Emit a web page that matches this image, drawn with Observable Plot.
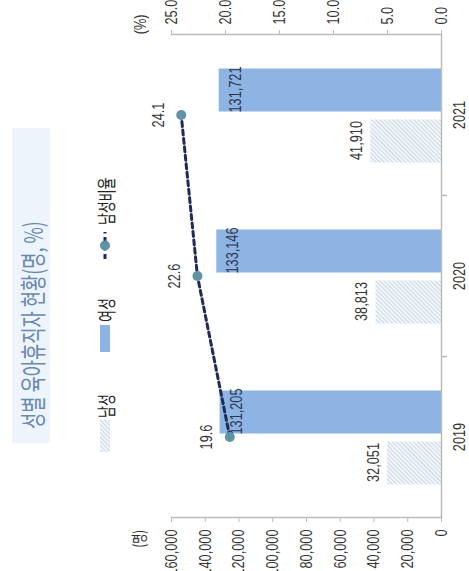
<!DOCTYPE html>
<html><head><meta charset="utf-8">
<script src="https://cdn.jsdelivr.net/npm/d3@7"></script>
<script src="https://cdn.jsdelivr.net/npm/@observablehq/plot@0.6"></script>
<style>
html,body{margin:0;padding:0;background:#fff;overflow:hidden;width:469px;height:571px}
#rot{position:absolute;left:0;top:0;width:571px;height:469px;transform-origin:0 0;transform:translate(0,571px) rotate(-90deg);background:#fff}
#rot svg{display:block}
</style></head><body><div id="rot"></div>
<script>
// ---- data ----
const years = ["2019", "2020", "2021"];
const male = [32051, 38813, 41910];
const female = [131205, 133146, 131721];
const maleRatio = [19.6, 22.6, 24.1];
const countTicks = [0, 20000, 40000, 60000, 80000, 100000, 120000, 140000, 160000];
const pctTicks = [0, 5, 10, 15, 20, 25];
const seriesNames = ["남성", "여성", "남성비율"];
const titleText = "성별 육아휴직자 현황(명, %)";
const unitLeft = "(명)";
const unitRight = "(%)";

const rows = years.map((y, i) => ({year: y, male: male[i], female: female[i], ratio: maleRatio[i]}));
const k = d3.max(countTicks) / d3.max(pctTicks);

// ---- style ----
const W = 571, H = 469, headerH = 122;
const mL = 53, mR = 35, mT = 171 - headerH, mB = 28;
const band = (W - mL - mR) / years.length;
const barW = 43, barGap = 8;
const outer = (band - 2 * barW - barGap) / 2;
const femaleColor = "#8eb4e3";
const navy = "#1f2a5a";
const teal = "#5f93a3";
const axisColor = "#bdbdbd";
const textColor = "#333";
const sans = "'Liberation Sans','Arial',sans-serif";
const kr = "'Noto Sans CJK KR','Noto Sans',sans-serif";
const condenseNum = 0.75, condenseKr = 0.68;
const fs = 17;

function addHatch(sel, id) {
  const p = sel.append("defs").append("pattern")
    .attr("id", id).attr("patternUnits", "userSpaceOnUse")
    .attr("width", 3).attr("height", 3).attr("patternTransform", "rotate(45)");
  p.append("rect").attr("width", 3).attr("height", 3).attr("fill", "#f4f7fb");
  p.append("line").attr("x1", 0).attr("y1", 0).attr("x2", 0).attr("y2", 3)
    .attr("stroke", "#9fb4cf").attr("stroke-width", 1);
}

// ---- header (title + legend) ----
const header = d3.create("svg").attr("width", W).attr("height", headerH);
addHatch(header, "hatchL");
header.append("rect").attr("x", 128).attr("y", 12).attr("width", 315).attr("height", 38).attr("fill", "#eef4fb");
header.append("text").attr("class", "kr").attr("x", 142).attr("y", 31).attr("dominant-baseline", "central")
  .attr("font-family", kr).attr("font-size", 26).attr("fill", "#6a8ab0")
  .text(titleText);
const ly = 105;
const legendText = (x, s) => header.append("text").attr("class", "kr").attr("x", x).attr("y", ly).attr("dominant-baseline", "central")
  .attr("font-family", kr).attr("font-size", 19).attr("fill", "#222").text(s);
header.append("rect").attr("x", 119).attr("y", ly - 5).attr("width", 32).attr("height", 10).attr("fill", "url(#hatchL)");
legendText(153, seriesNames[0]);
header.append("rect").attr("x", 219).attr("y", ly - 5).attr("width", 27).attr("height", 10).attr("fill", femaleColor);
legendText(249, seriesNames[1]);
header.append("line").attr("x1", 312).attr("x2", 339).attr("y1", ly).attr("y2", ly)
  .attr("stroke", navy).attr("stroke-width", 3).attr("stroke-dasharray", "5,3.5");
header.append("circle").attr("cx", 325.5).attr("cy", ly).attr("r", 5).attr("fill", teal);
legendText(346, seriesNames[2]);

// ---- chart ----
const fmt = d3.format(",");
const chart = Plot.plot({
  width: W, height: H - headerH,
  marginLeft: mL, marginRight: mR, marginTop: mT, marginBottom: mB,
  style: {fontFamily: sans, fontSize: fs + "px", color: textColor, background: "#fff"},
  x: {type: "band", domain: years, padding: 0},
  y: {domain: [0, d3.max(countTicks)]},
  marks: [
    Plot.barY(rows, {x: "year", y: "male", fill: "url(#hatchP)", insetLeft: outer, insetRight: band - outer - barW}),
    Plot.barY(rows, {x: "year", y: "female", fill: femaleColor, insetLeft: outer + barW + barGap, insetRight: outer}),
    Plot.ruleY([0], {stroke: axisColor, strokeWidth: 1.5}),
    Plot.frame({anchor: "left", stroke: axisColor, strokeWidth: 1.5}),
    Plot.frame({anchor: "right", stroke: axisColor, strokeWidth: 1.5}),
    Plot.ruleX(years.slice(1), {x: d => d, y1: 0, y2: 0, dx: -band / 2, insetBottom: -6, stroke: axisColor, strokeWidth: 1.5}),
    Plot.axisY(countTicks, {anchor: "left", tickSize: 4, tickPadding: 8, tickFormat: fmt, stroke: axisColor, fill: textColor, fontSize: fs, label: null}),
    Plot.axisY(pctTicks.map(v => v * k), {anchor: "right", tickSize: 4, tickPadding: 6, tickFormat: d => (d / k).toFixed(1), stroke: axisColor, fill: textColor, fontSize: fs, label: null}),
    Plot.axisX({tickSize: 0, tickPadding: 11, fill: textColor, fontSize: fs, label: null}),
    Plot.text([unitLeft], {frameAnchor: "top-left", text: d => d, dx: -30, dy: -38, fontFamily: kr, fontSize: 16, fill: textColor, className: "kr"}),
    Plot.text([unitRight], {frameAnchor: "top-right", text: d => d, dx: 20, dy: -38, fontSize: fs, fill: textColor}),
    Plot.text(rows, {x: "year", y: "male", text: d => fmt(d.male), dx: outer + barW / 2 - band / 2, dy: -14, fontSize: fs, fill: textColor}),
    Plot.text(rows, {x: "year", y: "female", text: d => fmt(d.female), dx: band / 2 - outer - barW / 2, dy: 16, fontSize: fs, fill: "#2b3550"}),
    Plot.line(rows, {x: "year", y: d => d.ratio * k, stroke: navy, strokeWidth: 3, strokeDasharray: "5,3.5"}),
    Plot.dot(rows, {x: "year", y: d => d.ratio * k, r: 5, fill: teal}),
    Plot.text(rows, {x: "year", y: d => d.ratio * k, text: d => d.ratio.toFixed(1), dy: -23, fontSize: fs, fill: textColor})
  ]
});
addHatch(d3.select(chart), "hatchP");
const root = document.getElementById("rot");
root.appendChild(header.node());
root.appendChild(chart);

// condense all text horizontally (the reference uses a narrow face)
for (const t of root.querySelectorAll("text")) {
  const len = t.getComputedTextLength();
  if (len > 0) {
    const isKr = t.closest(".kr") || t.getAttribute("class") === "kr";
    t.setAttribute("textLength", (len * (isKr ? condenseKr : condenseNum)).toFixed(1));
    t.setAttribute("lengthAdjust", "spacingAndGlyphs");
  }
}
</script></body></html>
